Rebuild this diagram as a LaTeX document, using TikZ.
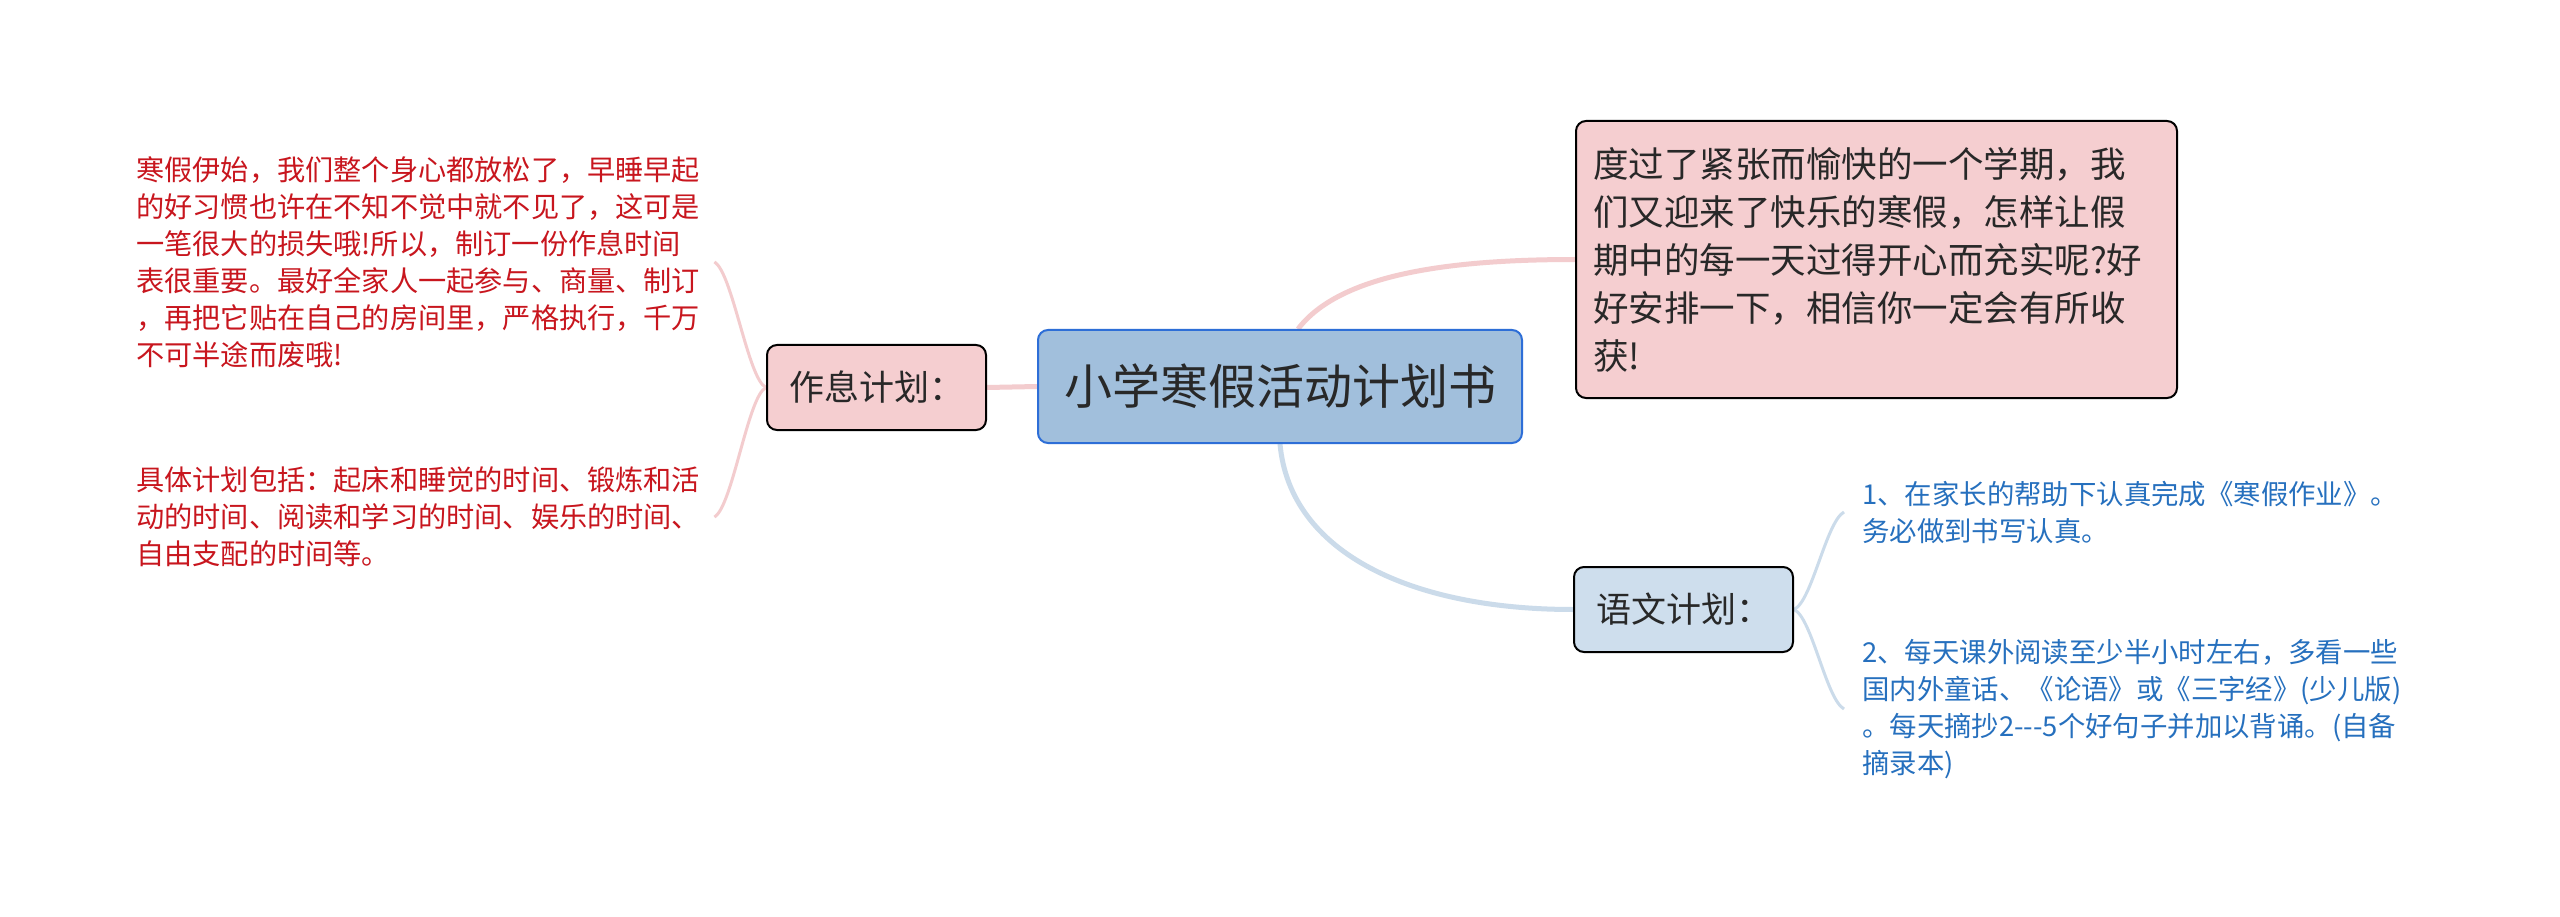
\documentclass[tikz,border=0pt]{standalone}
\usepackage{fontspec}
\setmainfont{Noto Sans CJK SC}
\usepackage{xcolor}
\usepackage{tikz}
\usetikzlibrary{positioning, backgrounds}

\definecolor{rootfill}{RGB}{161,191,220}
\definecolor{rootline}{RGB}{45,110,215}
\definecolor{pinkfill}{RGB}{245,206,208}
\definecolor{pinklink}{RGB}{243,204,206}
\definecolor{bluefill}{RGB}{206,222,237}
\definecolor{bluelink}{RGB}{203,219,234}
\definecolor{redtext}{RGB}{200,22,30}
\definecolor{bluetext}{RGB}{38,112,190}
\definecolor{darktext}{RGB}{40,40,40}

\begin{document}
\begin{tikzpicture}[x=1pt, y=-1pt,
	root/.style={draw=rootline, line width=2pt, fill=rootfill, rounded corners=10pt, minimum width=484pt, minimum height=113pt, text=darktext, font=\fontsize{48}{58}\selectfont},
	topic/.style={draw=black, line width=2pt, rounded corners=10pt, minimum width=219pt, minimum height=85pt, text=darktext, font=\fontsize{35}{42}\selectfont},
	intro/.style={draw=black, line width=2pt, fill=pinkfill, rounded corners=10pt, text width=567pt, inner xsep=17pt, minimum height=277pt, align=left, text=darktext, font=\fontsize{35.5}{48}\selectfont},
	rednote/.style={inner xsep=18pt, inner ysep=0pt, align=left, anchor=west, text width=560pt, text=redtext, font=\fontsize{28.2}{37}\selectfont},
	bluenote/.style={inner xsep=18pt, inner ysep=0pt, align=left, anchor=west, text width=550pt, text=bluetext, font=\fontsize{27.4}{37}\selectfont},
	pinkedge/.style={draw=pinklink, line width=5pt},
	blueedge/.style={draw=bluelink, line width=5pt},
	pinkbrace/.style={draw=pinklink, line width=3pt},
	bluebrace/.style={draw=bluelink, line width=3pt}
	]
	\useasboundingbox (0,0) rectangle (2560,917);

	\node [root](plan) at (1280,386.5) {小学寒假活动计划书};
	\node [topic, fill=pinkfill](rest) at (876.5,387.5) {作息计划：};
	\node [topic, fill=bluefill](chinese) at (1683.5,609.5) {语文计划：};
	\node [intro](intro) at (1876.5,259.5) {度过了紧张而愉快的一个学期，我\\们又迎来了快乐的寒假，怎样让假\\期中的每一天过得开心而充实呢?好\\好安排一下，相信你一定会有所收\\获!};
	\node [rednote](rest1) at (118,262) {寒假伊始，我们整个身心都放松了，早睡早起\\的好习惯也许在不知不觉中就不见了，这可是\\一笔很大的损失哦!所以，制订一份作息时间\\表很重要。最好全家人一起参与、商量、制订\\，再把它贴在自己的房间里，严格执行，千万\\不可半途而废哦!};
	\node [rednote](rest2) at (118,517) {具体计划包括：起床和睡觉的时间、锻炼和活\\动的时间、阅读和学习的时间、娱乐的时间、\\自由支配的时间等。};
	\node [bluenote](lang1) at (1844,512) {1、在家长的帮助下认真完成《寒假作业》。\\务必做到书写认真。};
	\node [bluenote](lang2) at (1844,709) {2、每天课外阅读至少半小时左右，多看一些\\国内外童话、《论语》或《三字经》(少儿版)\\。每天摘抄2-{}-{}-5个好句子并加以背诵。(自备\\摘录本)};

	\begin{scope}[on background layer]
	\fill[white] (0,0) rectangle (2560,917);
	\draw[pinkedge] (plan.west) -- (rest.east);
	\draw[pinkedge] ([xshift=18pt]plan.north) .. controls +(42,-55) and +(-126,0) .. (intro.west);
	\draw[blueedge] (plan.south) .. controls +(10,110) and +(-160,0) .. (chinese.west);
	\draw[pinkbrace] (rest.west) .. controls +(-18,-8) and +(18,10) .. (rest1.east);
	\draw[pinkbrace] (rest.west) .. controls +(-18,8) and +(18,-10) .. (rest2.east);
	\draw[bluebrace] (chinese.east) .. controls +(18,-8) and +(-18,10) .. (lang1.west);
	\draw[bluebrace] (chinese.east) .. controls +(18,8) and +(-18,-10) .. (lang2.west);
	\end{scope}
\end{tikzpicture}
\end{document}
